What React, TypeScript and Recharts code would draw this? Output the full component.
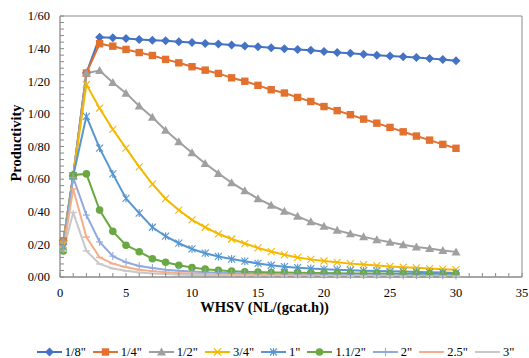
import { LineChart, Line, XAxis, YAxis, Legend, ReferenceLine } from 'recharts'

// WHSV values (x) and productivity for each pipe size
const whsv = [0.25, 1, 2, 3, 4, 5, 6, 7, 8, 9, 10, 11, 12, 13, 14, 15, 16, 17, 18, 19, 20, 21, 22, 23, 24, 25, 26, 27, 28, 29, 30]

const p1_8 = [0.22, 0.62, 1.25, 1.47, 1.466, 1.462, 1.456, 1.452, 1.448, 1.442, 1.437, 1.432, 1.428, 1.422, 1.416, 1.412, 1.406, 1.4, 1.395, 1.39, 1.382, 1.376, 1.372, 1.365, 1.36, 1.355, 1.35, 1.345, 1.34, 1.334, 1.325]
const p1_4 = [0.22, 0.62, 1.25, 1.43, 1.415, 1.395, 1.376, 1.358, 1.334, 1.313, 1.289, 1.268, 1.248, 1.221, 1.2, 1.175, 1.148, 1.128, 1.101, 1.076, 1.045, 1.02, 0.995, 0.968, 0.943, 0.917, 0.89, 0.864, 0.839, 0.813, 0.789]
const p1_2 = [0.22, 0.62, 1.25, 1.266, 1.192, 1.127, 1.048, 0.979, 0.9, 0.829, 0.762, 0.696, 0.635, 0.578, 0.528, 0.48, 0.44, 0.403, 0.372, 0.338, 0.311, 0.286, 0.265, 0.246, 0.229, 0.213, 0.198, 0.184, 0.174, 0.163, 0.154]
const p3_4 = [0.2, 0.62, 1.18, 1.035, 0.905, 0.79, 0.675, 0.57, 0.48, 0.41, 0.35, 0.305, 0.265, 0.233, 0.205, 0.178, 0.156, 0.136, 0.12, 0.108, 0.098, 0.09, 0.082, 0.076, 0.07, 0.065, 0.06, 0.056, 0.052, 0.048, 0.045]
const p1 = [0.18, 0.62, 0.985, 0.79, 0.632, 0.482, 0.392, 0.305, 0.25, 0.207, 0.172, 0.146, 0.126, 0.11, 0.097, 0.083, 0.072, 0.063, 0.057, 0.052, 0.048, 0.045, 0.042, 0.039, 0.037, 0.035, 0.033, 0.031, 0.029, 0.027, 0.025]
const p1_1_2 = [0.16, 0.625, 0.632, 0.41, 0.28, 0.195, 0.155, 0.112, 0.09, 0.072, 0.058, 0.048, 0.041, 0.036, 0.032, 0.03, 0.028, 0.027, 0.026, 0.025, 0.024, 0.023, 0.022, 0.022, 0.021, 0.02, 0.02, 0.019, 0.019, 0.018, 0.018]
const p2 = [0.17, 0.61, 0.38, 0.215, 0.128, 0.09, 0.068, 0.055, 0.045, 0.038, 0.033, 0.029, 0.026, 0.023, 0.021, 0.019, 0.018, 0.017, 0.016, 0.015, 0.014, 0.013, 0.013, 0.012, 0.012, 0.011, 0.011, 0.01, 0.01, 0.01, 0.009]
const p2_5 = [0.16, 0.54, 0.245, 0.12, 0.082, 0.06, 0.045, 0.036, 0.029, 0.024, 0.021, 0.018, 0.016, 0.014, 0.013, 0.012, 0.011, 0.01, 0.009, 0.009, 0.008, 0.008, 0.007, 0.007, 0.007, 0.006, 0.006, 0.006, 0.005, 0.005, 0.005]
const p3 = [0.16, 0.395, 0.16, 0.08, 0.052, 0.038, 0.028, 0.022, 0.018, 0.015, 0.013, 0.011, 0.01, 0.009, 0.008, 0.007, 0.007, 0.006, 0.006, 0.005, 0.005, 0.005, 0.004, 0.004, 0.004, 0.004, 0.003, 0.003, 0.003, 0.003, 0.003]

const xTicks = [0, 1, 2, 3, 4, 5, 6, 7, 8, 9, 10, 11, 12, 13, 14, 15, 16, 17, 18, 19, 20, 21, 22, 23, 24, 25, 26, 27, 28, 29, 30, 31, 32, 33, 34, 35]
const yMajor = [0, 0.2, 0.4, 0.6, 0.8, 1.0, 1.2, 1.4, 1.6]

const series = [
    { key: 's18', name: '1/8"', values: p1_8, color: '#4472C4', shape: 'diamond' },
    { key: 's14', name: '1/4"', values: p1_4, color: '#E2702F', shape: 'square' },
    { key: 's12', name: '1/2"', values: p1_2, color: '#A0A0A0', shape: 'triangle' },
    { key: 's34', name: '3/4"', values: p3_4, color: '#F5B800', shape: 'x' },
    { key: 's1', name: '1"', values: p1, color: '#5796D0', shape: 'star' },
    { key: 's112', name: '1.1/2"', values: p1_1_2, color: '#6AA843', shape: 'circle' },
    { key: 's2', name: '2"', values: p2, color: '#8FAADC', shape: 'plus' },
    { key: 's25', name: '2.5"', values: p2_5, color: '#F4AE8A', shape: 'dash' },
    { key: 's3', name: '3"', values: p3, color: '#C8C8C8', shape: 'dash' },
]

const data = whsv.map((x, i) => {
    const row: Record<string, number> = { x }
    series.forEach(s => { row[s.key] = s.values[i] })
    return row
})

// minor y ticks every 0.04
const yTicks = yMajor.flatMap((v, i) =>
    i === yMajor.length - 1 ? [v] : [0, 1, 2, 3, 4].map(k => +(v + k * 0.04).toFixed(2))
)

const W = 529
const H = 358
const FONT = 'Liberation Serif, DejaVu Serif, serif'
const AXIS = '#8a8a8a'

function Marker({ shape, cx, cy, color }: { shape: string; cx: number; cy: number; color: string }) {
    switch (shape) {
        case 'diamond':
            return <polygon points={`${cx},${cy - 4.5} ${cx + 4.5},${cy} ${cx},${cy + 4.5} ${cx - 4.5},${cy}`} fill={color} />
        case 'square':
            return <rect x={cx - 3.7} y={cy - 3.7} width={7.4} height={7.4} fill={color} />
        case 'triangle':
            return <polygon points={`${cx},${cy - 4.5} ${cx + 4.5},${cy + 3.5} ${cx - 4.5},${cy + 3.5}`} fill={color} />
        case 'circle':
            return <circle cx={cx} cy={cy} r={3.8} fill={color} />
        case 'x':
            return (
                <g stroke={color} strokeWidth={1.1}>
                    <line x1={cx - 3.5} y1={cy - 3.5} x2={cx + 3.5} y2={cy + 3.5} />
                    <line x1={cx - 3.5} y1={cy + 3.5} x2={cx + 3.5} y2={cy - 3.5} />
                </g>
            )
        case 'star':
            return (
                <g stroke={color} strokeWidth={1.1}>
                    <line x1={cx - 3.5} y1={cy - 3.5} x2={cx + 3.5} y2={cy + 3.5} />
                    <line x1={cx - 3.5} y1={cy + 3.5} x2={cx + 3.5} y2={cy - 3.5} />
                    <line x1={cx} y1={cy - 4} x2={cx} y2={cy + 4} />
                </g>
            )
        case 'plus':
            return (
                <g stroke={color} strokeWidth={1.1}>
                    <line x1={cx - 3.5} y1={cy} x2={cx + 3.5} y2={cy} />
                    <line x1={cx} y1={cy - 4} x2={cx} y2={cy + 4} />
                </g>
            )
        default:
            return <line x1={cx - 3.5} y1={cy} x2={cx + 3.5} y2={cy} stroke={color} strokeWidth={1.5} />
    }
}

const textStyle = { fontFamily: FONT }

function XTick(props: any) {
    const { x, y, payload } = props
    const major = payload.value % 5 === 0
    return (
        <g>
            <line x1={x} x2={x} y1={y} y2={y - 4} stroke={AXIS} />
            {major && (
                <text x={x} y={y + 20} textAnchor="middle" style={textStyle} fontSize={12.5} fill="#000">
                    {payload.value}
                </text>
            )}
        </g>
    )
}

function YTick(props: any) {
    const { x, y, payload } = props
    const v = payload.value as number
    const major = Math.round(v * 100) % 20 === 0
    return (
        <g>
            <line x1={x} x2={x + 4} y1={y} y2={y} stroke={AXIS} />
            {major && (
                <text x={x - 10} y={y + 4.3} textAnchor="end" style={textStyle} fontSize={12.5} fill="#000">
                    {v.toFixed(2).replace('.', '/')}
                </text>
            )}
        </g>
    )
}

function LegendContent() {
    return (
        <div
            style={{
                height: 30,
                boxSizing: 'border-box',
                paddingTop: 16,
                paddingLeft: 36,
                display: 'flex',
                justifyContent: 'center',
                fontFamily: FONT,
                fontSize: 12.5,
                color: '#000',
            }}
        >
            {series.map(s => (
                <div key={s.key} style={{ display: 'flex', alignItems: 'center', height: 16, marginRight: 7 }}>
                    <svg width={25} height={12}>
                        <line x1={0} x2={25} y1={6} y2={6} stroke={s.color} strokeWidth={2} />
                        <Marker shape={s.shape} cx={12.5} cy={6} color={s.color} />
                    </svg>
                    <span style={{ marginLeft: 3 }}>{s.name}</span>
                </div>
            ))}
        </div>
    )
}

export default function App() {
    return (
        <div style={{ position: 'absolute', left: 0, top: 0, width: W, height: H, background: '#fff' }}>
            <LineChart width={W} height={H} data={data} margin={{ top: 16, right: 7, left: 0, bottom: 0 }}>
                <XAxis
                    dataKey="x"
                    type="number"
                    domain={[0, 35]}
                    ticks={xTicks}
                    interval={0}
                    tickSize={0}
                    tickMargin={0}
                    tickLine={false}
                    axisLine={{ stroke: AXIS, strokeWidth: 1.3 }}
                    tick={<XTick />}
                    height={51}
                    label={{
                        content: () => (
                            <text x={W / 2} y={312} textAnchor="middle" style={textStyle} fontSize={14.5} fontWeight="bold" fill="#000">
                                WHSV (NL/(gcat.h))
                            </text>
                        ),
                    }}
                />
                <YAxis
                    type="number"
                    domain={[0, 1.6]}
                    ticks={yTicks}
                    interval={0}
                    tickSize={0}
                    tickMargin={0}
                    tickLine={false}
                    axisLine={{ stroke: AXIS, strokeWidth: 1.3 }}
                    tick={<YTick />}
                    width={60}
                    label={{
                        content: () => (
                            <text
                                x={21}
                                y={143}
                                transform="rotate(-90 21 143)"
                                textAnchor="middle"
                                style={textStyle}
                                fontSize={14.5}
                                fontWeight="bold"
                                fill="#000"
                            >
                                Productivity
                            </text>
                        ),
                    }}
                />
                <ReferenceLine y={1.6} stroke={AXIS} strokeWidth={1} />
                <ReferenceLine x={35} stroke={AXIS} strokeWidth={1} />
                {series.map(s => (
                    <Line
                        key={s.key}
                        dataKey={s.key}
                        name={s.name}
                        type="linear"
                        stroke={s.color}
                        strokeWidth={2}
                        isAnimationActive={false}
                        activeDot={false}
                        dot={(p: any) => (
                            <g key={`${s.key}-${p.index}`}>
                                <Marker shape={s.shape} cx={p.cx} cy={p.cy} color={s.color} />
                            </g>
                        )}
                    />
                ))}
                <Legend verticalAlign="bottom" content={<LegendContent />} />
            </LineChart>
        </div>
    )
}
